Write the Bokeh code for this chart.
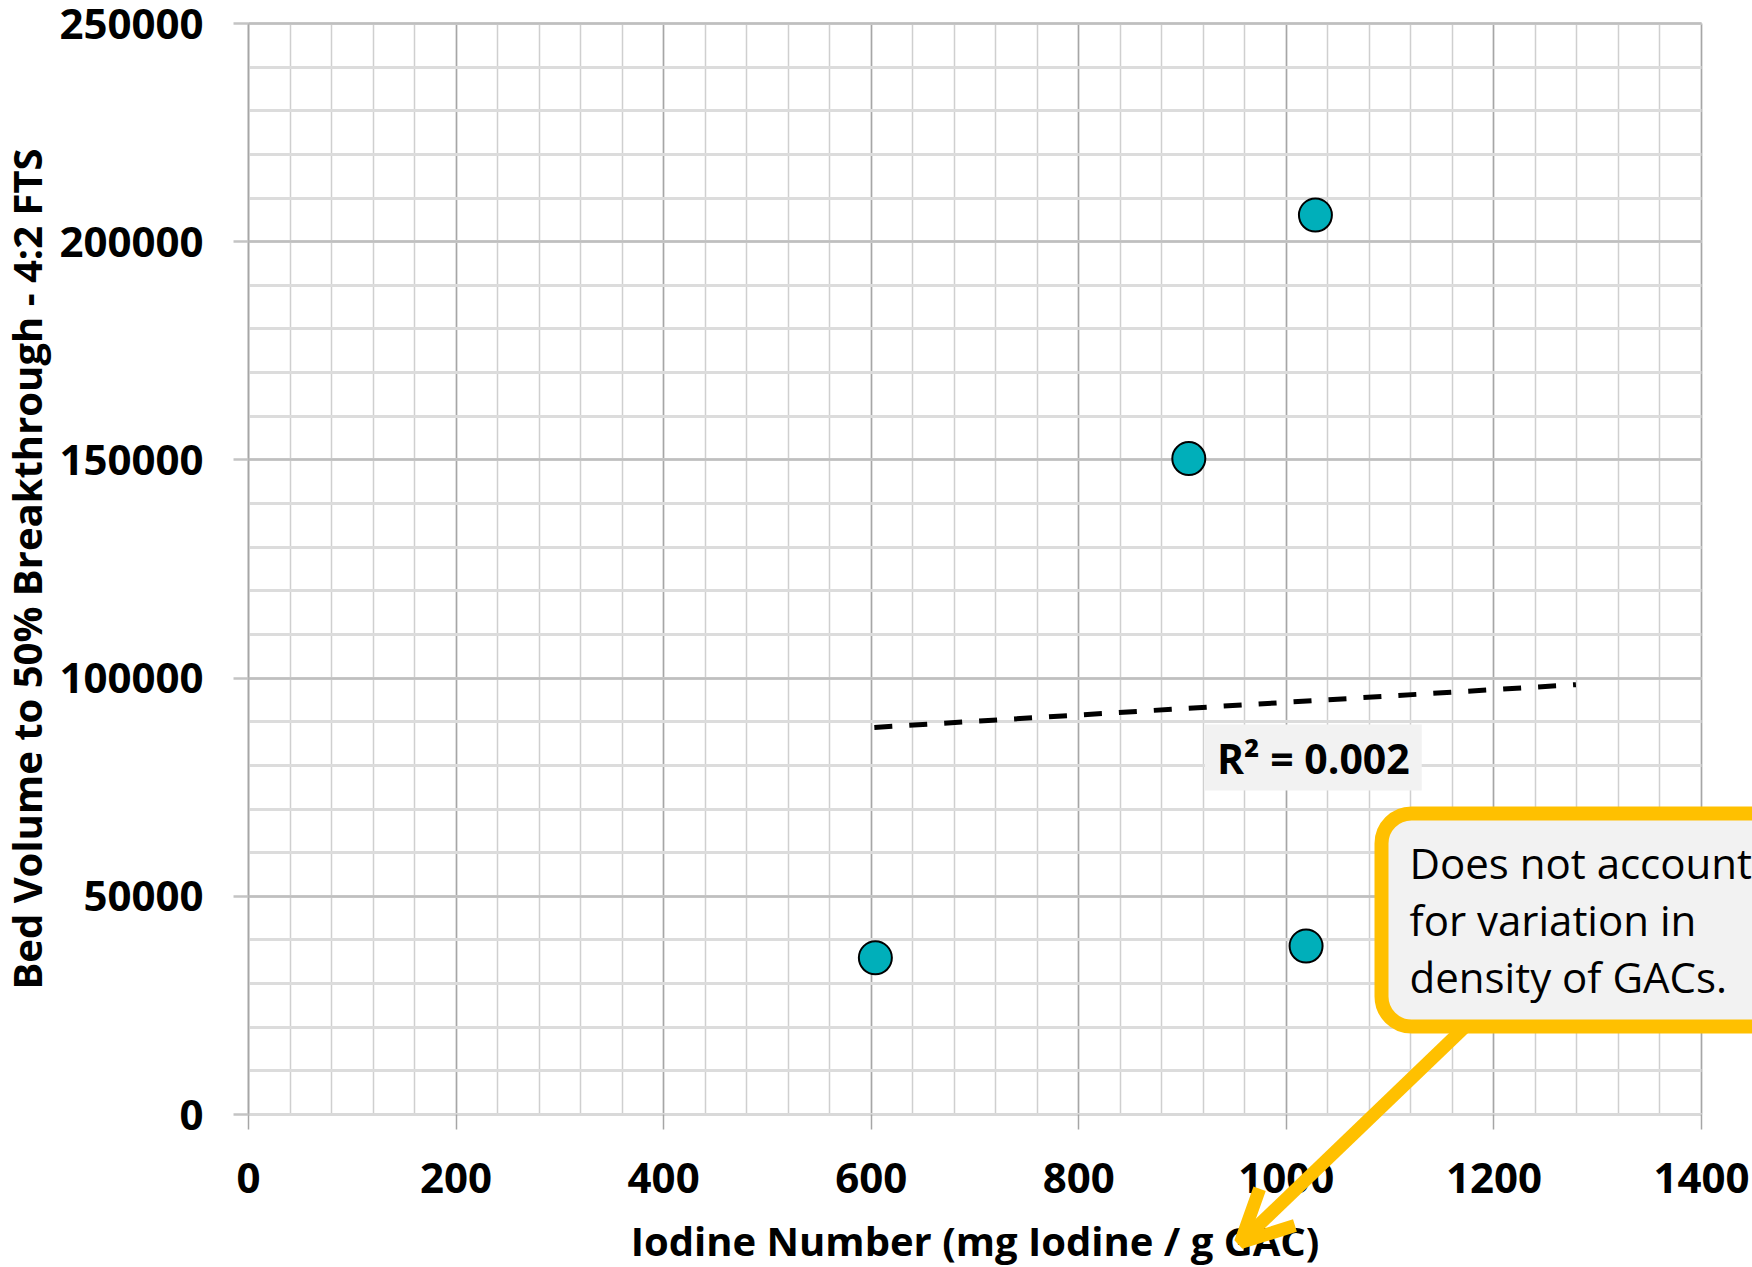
from bokeh.plotting import figure
from bokeh.models import (Range1d, SingleIntervalTicker, NumeralTickFormatter,
                          Label, Arrow, OpenHead, ColumnDataSource, Grid)
from bokeh.embed import file_html
from bokeh.resources import INLINE

# ---- data ----
iodine_number = [604, 906, 1028, 1019]
bed_volume = [35900, 150300, 206100, 38600]
trend_x = [603, 1279]
trend_y = [88700, 98500]
x_limits = (0, 1400)
y_limits = (0, 250000)
r2_text = "R\u00b2 = 0.002"
callout_text = "Does not account\nfor variation in\ndensity of GACs."
x_title = "Iodine Number (mg Iodine / g GAC)"
y_title = "Bed Volume to 50% Breakthrough - 4:2 FTS"

FONT = "Open Sans"
TEAL = "#00AFBA"
GOLD = "#FFC000"

# ---- layout: the frame covers the whole canvas so the callout is not clipped;
# the axes sit at fixed locations and the plotting box spans these pixels
W, H = 1752, 1267
BOX_L, BOX_R, BOX_T, BOX_B = 248, 1701, 23, 1114
kx = (BOX_R - BOX_L) / (x_limits[1] - x_limits[0])
ky = (BOX_B - BOX_T) / (y_limits[1] - y_limits[0])
x_range = Range1d(x_limits[0] - BOX_L / kx, x_limits[1] + (W - BOX_R) / kx)
y_range = Range1d(y_limits[0] - (H - BOX_B) / ky, y_limits[1] + BOX_T / ky)

p = figure(width=W, height=H, x_range=x_range, y_range=y_range,
           min_border=0, min_border_left=0, min_border_right=0,
           min_border_top=0, min_border_bottom=0,
           output_backend="svg", toolbar_location=None)
p.outline_line_color = None
p.background_fill_color = "white"
p.border_fill_color = "white"

xt = SingleIntervalTicker(interval=200, num_minor_ticks=5)
yt = SingleIntervalTicker(interval=50000, num_minor_ticks=5)
p.xaxis.ticker = xt
p.yaxis.ticker = yt
p.xgrid.ticker = xt
p.ygrid.ticker = yt
p.xaxis.fixed_location = y_limits[0]
p.yaxis.fixed_location = x_limits[0]
p.xaxis.bounds = x_limits
p.yaxis.bounds = y_limits
p.xgrid.bounds = x_limits
p.ygrid.bounds = y_limits
if "cross_bounds" in Grid.properties():
    p.xgrid.cross_bounds = y_limits
    p.ygrid.cross_bounds = x_limits

p.xgrid.grid_line_color = "#a6a6a6"
p.xgrid.grid_line_width = 1.5
p.xgrid.minor_grid_line_color = "#cfcfcf"
p.xgrid.minor_grid_line_width = 1.5
p.ygrid.grid_line_color = "#bfbfbf"
p.ygrid.grid_line_width = 2.5
p.ygrid.minor_grid_line_color = "#dcdcdc"
p.ygrid.minor_grid_line_width = 3

p.yaxis.formatter = NumeralTickFormatter(format="0")
for ax in (p.xaxis, p.yaxis):
    ax.major_label_text_font = FONT
    ax.major_label_text_font_style = "bold"
    ax.major_label_text_font_size = "42px"
    ax.major_label_text_color = "black"
    ax.axis_label_text_font = FONT
    ax.axis_label_text_font_style = "bold"
    ax.axis_label_text_font_size = "40px"
    ax.axis_label_text_color = "black"
    ax.major_tick_in = 0
    ax.major_tick_out = 15
    ax.minor_tick_in = 0
    ax.minor_tick_out = 0

p.xaxis.axis_label = x_title
p.yaxis.axis_label = y_title
p.xaxis.axis_line_color = "#d9d9d9"
p.xaxis.axis_line_width = 3
p.xaxis.major_tick_line_color = "#a6a6a6"
p.xaxis.major_tick_line_width = 1.5
p.xaxis.major_label_standoff = 33
p.xaxis.axis_label_standoff = 17
p.yaxis.axis_line_color = "#a6a6a6"
p.yaxis.axis_line_width = 1.5
p.yaxis.major_tick_line_color = "#c4c4c4"
p.yaxis.major_tick_line_width = 2.5
p.yaxis.major_label_standoff = 30
p.yaxis.axis_label_standoff = 2

trend = ColumnDataSource(dict(x=trend_x, y=trend_y))
p.line("x", "y", source=trend, line_color="black", line_width=5,
       line_dash="18 17")

pts = ColumnDataSource(dict(x=iodine_number, y=bed_volume))
p.scatter("x", "y", source=pts, size=33, fill_color=TEAL,
          line_color="black", line_width=2)

p.add_layout(Label(x=1026, y=81800, text=r2_text, text_align="center",
                   text_baseline="middle", text_font=FONT,
                   text_font_style="bold", text_font_size="41px",
                   text_color="black", background_fill_color="#f2f2f2",
                   padding=dict(left=12, right=12, top=5, bottom=5)))

p.add_layout(Arrow(x_start=1467, y_start=1024, x_end=1240, y_end=1242,
                   start_units="canvas", end_units="canvas",
                   line_color=GOLD, line_width=13, level="overlay",
                   end=OpenHead(size=51, line_color=GOLD, line_width=13)))

p.add_layout(Label(x=1381, y=813, x_units="canvas", y_units="canvas",
                   text=callout_text, text_align="left",
                   text_baseline="top", text_font=FONT,
                   text_font_size="42px", text_color="black",
                   text_line_height=1.0, level="overlay",
                   background_fill_color="#f2f2f2",
                   border_line_color=GOLD, border_line_width=14,
                   border_radius=30,
                   padding=dict(left=28, right=30, top=20, bottom=22)))

open("out.html", "w").write(file_html(p, INLINE))
